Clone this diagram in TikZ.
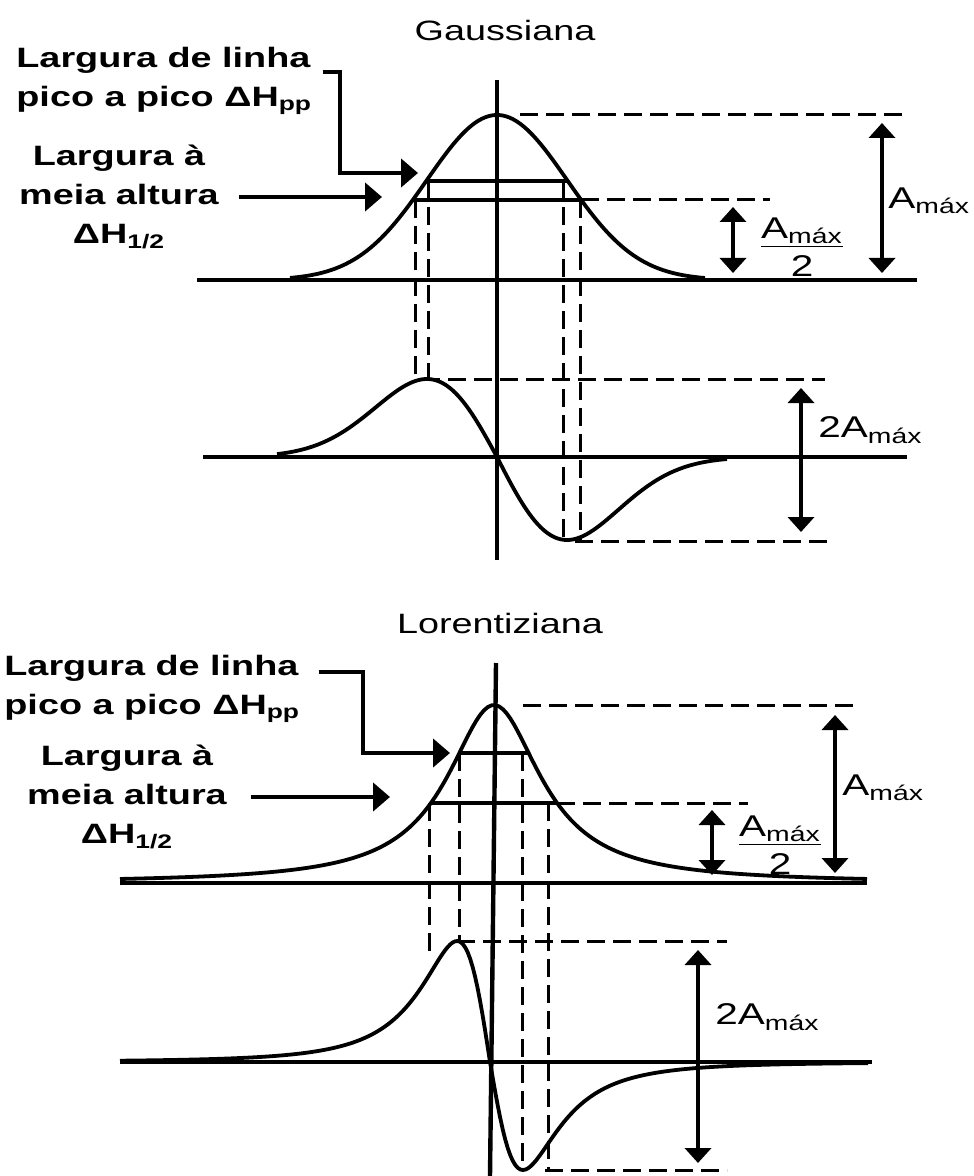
\documentclass[tikz,border=0pt]{standalone}
\usepackage{fontspec}
\setmainfont{Liberation Sans}[FakeStretch=1.35]
\usetikzlibrary{arrows.meta, positioning, calc}
\tikzset{
  trace/.style={line width=1.9pt, line join=round},
  axisline/.style={line width=2.2pt},
  zeroline/.style={line width=2.2pt},
  refline/.style={line width=1.9pt},
  dashguide/.style={line width=1.5pt, dash pattern=on 9pt off 4pt},
  twoway/.style={line width=2pt, {Triangle[length=7.5pt,width=13pt]}-{Triangle[length=7.5pt,width=13pt]}},
  pointer/.style={line width=2.2pt, -{Triangle[length=8.5pt,width=14pt]}},
  heading/.style={font=\fontsize{14}{17}\selectfont, inner sep=1pt},
  tagtext/.style={font=\bfseries\fontsize{14}{19.5}\selectfont, inner sep=1pt},
  ampl/.style={font=\fontsize{15}{19}\selectfont, inner sep=1pt},
}

\begin{document}
\begin{tikzpicture}[x=0.5pt, y=-0.5pt,
    declare function={gau(\q)=exp(-\q*\q/2); dgau(\q)=-\q*exp(0.5-\q*\q/2);
      lor(\q)=1/(1+\q*\q); dlor(\q)=-2*\q/((1+\q*\q)*(1+\q*\q))/0.6495;}]
  \useasboundingbox (0,0) rectangle (973,1176);

  % Gaussiana
  \node[heading] (gTitle) at (505,30) {Gaussiana};
  \draw[axisline] (497,80) -- (497,560);
  \draw[zeroline] (197,280) -- (917,280);
  \draw[zeroline] (203,457) -- (907,457);
  \draw[trace] plot[domain=290:705, samples=120] (\x, {280-165*gau((\x-497)/70)});
  \draw[trace] plot[domain=277:497, samples=80] (\x, {457-78*dgau((\x-497)/70)});
  \draw[trace] plot[domain=497:727, samples=80] (\x, {457-83*dgau((\x-497)/70)});
  \foreach \gx/\gtop/\gbot in {415/200/379, 428/181/379, 563/181/541, 580/200/541}
    \draw[dashguide] (\gx,\gtop) -- (\gx,\gbot);
  \draw[refline] (426,181) -- (568,181);
  \draw[refline] (413,200) -- (581,200);
  \draw[dashguide] (581,200) -- (770,200);
  \draw[dashguide] (520,115) -- (905,115);
  \draw[dashguide] (422,379) -- (825,379);
  \draw[dashguide] (575,541) -- (828,541);

  \coordinate (gAtop) at (882,123);
  \coordinate (gAbot) at (882,273);
  \coordinate (gHtop) at (733,207);
  \coordinate (gHbot) at (733,273);
  \coordinate (gDtop) at (801,388);
  \coordinate (gDbot) at (801,532);
  \draw[twoway] (gAtop) -- (gAbot);
  \draw[twoway] (gHtop) -- (gHbot);
  \draw[twoway] (gDtop) -- (gDbot);
  \node[ampl, anchor=west] (gAmax) at (886,201) {A\textsubscript{máx}};
  \node[ampl, align=center] (gAhalf) at (802,247) {\underline{A\textsubscript{máx}}\\2};
  \node[ampl, anchor=west] (gAtwo) at (816,430) {2A\textsubscript{máx}};

  \node[tagtext, align=left, anchor=west] (ppG) at (14,81) {Largura de linha\\pico a pico ΔH\textsubscript{pp}};
  \node[tagtext, align=center] (hwG) at (119,197) {Largura à\\meia altura\\ΔH\textsubscript{1/2}};
  \coordinate (ppGbend) at (340,72);
  \coordinate (ppGtip) at (418,173);
  \coordinate (hwGtip) at (382,197);
  \draw[pointer] ([xshift=4pt]ppG.east |- ppGbend) -- (ppGbend) |- (ppGtip);
  \draw[pointer] ([xshift=9pt]hwG.east) -- (hwGtip);

  % Lorentiziana
  \node[heading] (lTitle) at (500,623) {Lorentiziana};
  \draw[axisline] (496,663) -- (490,1176);
  \draw[zeroline] (120,883) -- (867,883);
  \draw[zeroline] (120,1062) -- (872,1062);
  \draw[trace] plot[domain=120:867, samples=200] (\x, {883-178*lor((\x-494)/57)});
  \draw[trace] plot[domain=120:490, samples=150] (\x, {1062-121*dlor((\x-490)/57)});
  \draw[trace] plot[domain=490:868, samples=150] (\x, {1062-108*dlor((\x-490)/57)});
  \foreach \gx/\gtop/\gbot in {429/803/955, 459/753/941, 522/753/1170, 548/803/1170}
    \draw[dashguide] (\gx,\gtop) -- (\gx,\gbot);
  \draw[refline] (459,753) -- (529,753);
  \draw[refline] (431,803) -- (557,803);
  \draw[dashguide] (557,803) -- (748,803);
  \draw[dashguide] (523,705) -- (858,705);
  \draw[dashguide] (457,941) -- (727,941);
  \draw[dashguide] (545,1170) -- (727,1170);

  \coordinate (lAtop) at (835,715);
  \coordinate (lAbot) at (835,873);
  \coordinate (lHtop) at (712,810);
  \coordinate (lHbot) at (712,875);
  \coordinate (lDtop) at (698,950);
  \coordinate (lDbot) at (698,1163);
  \draw[twoway] (lAtop) -- (lAbot);
  \draw[twoway] (lHtop) -- (lHbot);
  \draw[twoway] (lDtop) -- (lDbot);
  \node[ampl, anchor=west] (lAmax) at (840,788) {A\textsubscript{máx}};
  \node[ampl, align=center] (lAhalf) at (780,845) {\underline{A\textsubscript{máx}}\\2};
  \node[ampl, anchor=west] (lAtwo) at (713,1017) {2A\textsubscript{máx}};

  \node[tagtext, align=left, anchor=west] (ppL) at (2,689) {Largura de linha\\pico a pico ΔH\textsubscript{pp}};
  \node[tagtext, align=center] (hwL) at (127,797) {Largura à\\meia altura\\ΔH\textsubscript{1/2}};
  \coordinate (ppLbend) at (363,672);
  \coordinate (ppLtip) at (450,753);
  \coordinate (hwLtip) at (390,797);
  \draw[pointer] ([xshift=8pt]ppL.east |- ppLbend) -- (ppLbend) |- (ppLtip);
  \draw[pointer] ([xshift=11pt]hwL.east) -- (hwLtip);
\end{tikzpicture}
\end{document}
